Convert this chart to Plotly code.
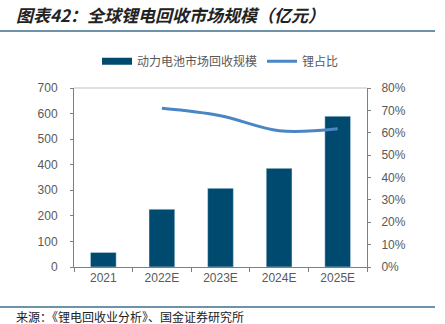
import plotly.graph_objects as go

categories = ["2021", "2022E", "2023E", "2024E", "2025E"]
market_size = [57, 226, 308, 386, 590]
ratio_categories = ["2022E", "2023E", "2024E", "2025E"]
li_ratio = [0.709, 0.676, 0.609, 0.618]

bar_name = "动力电池市场回收规模"
line_name = "锂占比"
title_text = "图表42：全球锂电回收市场规模（亿元）"
source_text = "来源：《锂电回收业分析》、国金证券研究所"

BAR_C = "#004A70"
LINE_C = "#4A86C6"
AX_C = "#7F7F7F"
TXT_C = "#595959"
RULE_C = "#3E6E8E"

fig = go.Figure()
fig.add_trace(go.Bar(x=categories, y=market_size, marker_color=BAR_C,
                     showlegend=False, name=bar_name))
fig.add_trace(go.Scatter(x=[None], y=[None], mode="lines", name=bar_name,
                         line=dict(color=BAR_C, width=7)))
fig.add_trace(go.Scatter(x=ratio_categories, y=li_ratio, mode="lines", name=line_name,
                         yaxis="y2", line=dict(color=LINE_C, width=3, shape="spline", smoothing=1.0)))

font_tick = dict(family="Liberation Sans, Arial", size=12, color=TXT_C)

fig.update_layout(
    width=445, height=324,
    margin=dict(l=74, r=78, t=88, b=57),
    paper_bgcolor="white", plot_bgcolor="white",
    bargap=0.56,
    xaxis=dict(type="category", categoryorder="array", categoryarray=categories,
               showline=True, linecolor=AX_C, linewidth=1,
               ticks="outside", tickson="boundaries", ticklen=4, tickcolor=AX_C,
               tickfont=font_tick, showgrid=False),
    yaxis=dict(range=[0, 700], dtick=100, showline=True, linecolor=AX_C, linewidth=1,
               ticks="outside", ticklen=3, tickcolor=AX_C, tickfont=font_tick,
               showgrid=False, zeroline=False, ticklabelstandoff=10),
    yaxis2=dict(range=[0, 0.8], dtick=0.1, tickformat=".0%", overlaying="y", side="right",
                showline=True, linecolor=AX_C, linewidth=1, ticks="outside", ticklen=3,
                tickcolor=AX_C, tickfont=font_tick, showgrid=False, zeroline=False,
                ticklabelstandoff=8),
    legend=dict(orientation="h", x=0.5, xanchor="center", y=1.15, yanchor="middle",
                font=dict(family="Noto Sans CJK SC", size=12, color=TXT_C),
                itemwidth=30, bgcolor="rgba(0,0,0,0)", traceorder="normal"),
    showlegend=True,
)

fig.add_shape(type="line", xref="paper", yref="paper", x0=0, x1=1, y0=1, y1=1,
              line=dict(color="#BFBFBF", width=1))
fig.add_shape(type="line", xref="paper", yref="paper", x0=-74/293, x1=(445-10)/293 - 74/293,
              y0=(267-31)/179, y1=(267-31)/179, line=dict(color=RULE_C, width=1.5))
fig.add_shape(type="line", xref="paper", yref="paper", x0=-74/293, x1=(445-10)/293 - 74/293,
              y0=(267-307)/179, y1=(267-307)/179, line=dict(color=RULE_C, width=1.5))

fig.add_annotation(text=f"<b><i>{title_text}</i></b>", xref="paper", yref="paper",
                   x=(14-74)/293, xanchor="left", y=(267-15)/179, yanchor="middle",
                   showarrow=False, font=dict(family="Noto Sans CJK SC", size=17, color="#222222"))
fig.add_annotation(text=source_text, xref="paper", yref="paper",
                   x=(14-74)/293, xanchor="left", y=(267-316)/179, yanchor="middle",
                   showarrow=False, font=dict(family="Noto Sans CJK SC", size=12, color="#222222"))

fig.write_html("out.html")
